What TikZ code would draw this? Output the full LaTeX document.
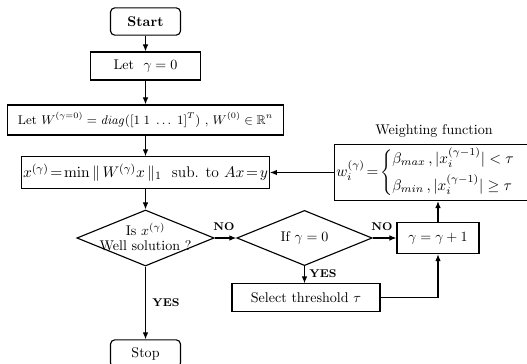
\documentclass[tikz,border=0pt]{standalone}
\usepackage{amsmath,amssymb,amsfonts}
\usepackage{xcolor}
\usepackage{tikz}
\usetikzlibrary{arrows.meta, shapes.geometric}

\begin{document}
\begin{tikzpicture}[x=0.025cm, y=-0.025cm,
		every path/.style={line width=0.8pt},
		arr/.style={-{Latex[length=5pt,width=4pt]}},
		term/.style={draw, rounded corners=3pt, minimum width=1.75cm, minimum height=0.68cm, inner sep=1pt},
		proc/.style={draw, rectangle, inner sep=1pt},
		dec/.style={draw, diamond, inner sep=0pt},
		tag/.style={font=\footnotesize\bfseries, inner sep=1pt}]
			\useasboundingbox (0,0) rectangle (527,363);
			\node [term] (start) at (145.5,21.5) {\textbf{Start}};
			\node [proc, minimum width=2.75cm, minimum height=0.7cm] (g0) at (145.5,66) {Let \ $\gamma=0$};
			\node [proc, minimum width=6.9cm, minimum height=0.75cm, font=\small] (w0) at (145.5,120) {Let $W^{(\gamma=0)}=\mathit{diag}([1\;1\;\dots\;1]^T)$ , $W^{(0)}\in\mathbb{R}^n$};
			\node [proc, minimum width=6.03cm, minimum height=0.78cm, font=\fontsize{11}{13}\selectfont] (xg) at (145.5,172.5) {$x^{(\gamma)}\!=\!\min\|\,W^{(\gamma)}x\,\|_1$\ \ sub. to $Ax\!=\!y$};
			\node [dec, minimum width=3.43cm, minimum height=1.4cm] (d1) at (145.5,238) {};
			\node [align=center, inner sep=0pt] (d1t) at (145.5,237) {Is $x^{(\gamma)}$\\[-1pt]Well solution ?};
			\node [term] (stop) at (145.5,353.5) {Stop};
			\node [dec, minimum width=3.38cm, minimum height=1.38cm] (d2) at (304.5,238) {};
			\node [inner sep=0pt] (d2t) at (304.5,238) {If $\gamma=0$};
			\node [proc, minimum width=2.05cm, minimum height=0.78cm] (g1) at (438,238) {$\gamma=\gamma+1$};
			\node [proc, minimum width=3.7cm, minimum height=0.68cm] (sel) at (306,297.5) {Select threshold $\tau$};
			\node [proc, minimum width=4.58cm, minimum height=1.4cm] (wf) at (433.5,172.5) {\scalebox{1.08}{$w_i^{(\gamma)}\!=\!\begin{cases}\beta_{max}\,,|x_i^{(\gamma-1)}|<\tau\\[3pt] \beta_{min}\,,|x_i^{(\gamma-1)}|\geq\tau\end{cases}$}};
			\node [] (wft) at (434,131) {Weighting function};
			\node [tag] (no1) at (224,227) {NO};
			\node [tag] (no2) at (382,227) {NO};
			\node [tag] (yes1) at (166,303) {YES};
			\node [tag] (yes2) at (323,274) {YES};
			\draw [arr] (start.south) -- (g0.north);
			\draw [arr] (g0.south) -- (w0.north);
			\draw [arr] (w0.south) -- (xg.north);
			\draw [arr] (xg.south) -- (d1.north);
			\draw [arr] (d1.south) -- (stop.north);
			\draw [arr] (d1.east) -- (d2.west);
			\draw [arr] (d2.east) -- (g1.west);
			\draw [arr] (d2.south) -- (d2.south |- sel.north);
			\draw [arr] (sel.east) -| (g1.south);
			\draw [arr] (g1.north) -- (g1.north |- wf.south);
			\draw [arr] (wf.west) -- (xg.east);
		\end{tikzpicture}
\end{document}
